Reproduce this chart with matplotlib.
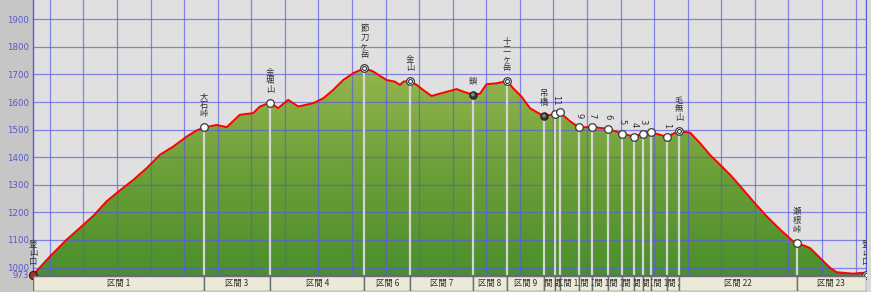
import numpy as np
import matplotlib.pyplot as plt
from matplotlib.patches import Rectangle, Polygon
from matplotlib.colors import LinearSegmentedColormap
from matplotlib.transforms import Bbox, TransformedBbox

plt.rcParams['font.family'] = ['Noto Sans CJK JP', 'DejaVu Sans']

# profile: distance (km) / elevation (m)
dist = [0.00, 0.51, 1.00, 1.40, 1.80, 2.19, 2.59, 2.99, 3.39, 3.78, 4.18, 4.58,
        4.87, 5.09, 5.47, 5.77, 6.16, 6.56, 6.76, 7.06, 7.30, 7.60, 7.90, 8.35,
        8.65, 8.94, 9.24, 9.54, 9.87, 10.13, 10.53, 10.78, 10.93, 11.03, 11.23,
        11.43, 11.62, 11.87, 12.22, 12.62, 12.81, 13.10, 13.31, 13.51, 13.81,
        14.12, 14.30, 14.55, 14.80, 15.05, 15.22, 15.55, 15.69, 16.00, 16.26,
        16.65, 17.12, 17.54, 17.90, 18.16, 18.40, 18.87, 19.24, 19.57, 19.86,
        20.16, 20.46, 20.76, 21.05, 21.45, 21.85, 22.25, 22.64, 22.75, 23.14,
        23.44, 23.74, 23.94, 24.42, 24.72, 24.81]
elev = [973, 1041, 1101, 1144, 1188, 1240, 1280, 1318, 1361, 1409, 1439, 1475,
        1497, 1508, 1517, 1509, 1554, 1560, 1584, 1598, 1578, 1608, 1584, 1596,
        1614, 1644, 1680, 1705, 1723, 1711, 1680, 1674, 1662, 1674, 1677,
        1662, 1644, 1622, 1634, 1647, 1638, 1627, 1630, 1665, 1668,
        1677, 1650, 1620, 1578, 1560, 1550, 1556, 1563, 1530, 1508,
        1510, 1503, 1486, 1475, 1485, 1491, 1474, 1495, 1489, 1452,
        1409, 1373, 1337, 1297, 1240, 1186, 1138, 1095, 1090, 1071,
        1035, 999, 983, 978, 981, 973]

# waypoints
wp_dist = [0.00, 5.09, 7.06, 9.87, 11.23, 13.10, 14.12, 15.22, 15.55, 15.69,
           16.26, 16.65, 17.12, 17.54, 17.90, 18.16, 18.40, 18.87, 19.24,
           22.75, 24.81]
wp_names = ['登山口', '大石峠', '金堀山', '節刀ヶ岳', '金山', '鎖', '十二ヶ岳', '吊橋',
            '11', '', '9', '7', '6', '5', '4', '3', '', '1', '毛無山',
            '瀬根峠', '登山口']
wp_kind = ['start', 'o', 'o', 'dbl', 'dbl', 'dark', 'dbl', 'dark',
           'o', 'o', 'o', 'o', 'o', 'o', 'o', 'o', 'o', 'o', 'dbl',
           'o', 'dbl']

sections = ['区間 1', '区間 3', '区間 4', '区間 6', '区間 7', '区間 8', '区間 9',
            '区間 10', '区間 11', '区間 12', '区間 13', '区間 14', '区間 15',
            '区間 16', '区間 17', '区間 18', '区間 19', '区間 20', '区間 22',
            '区間 23']

yticks = [973, 1000, 1100, 1200, 1300, 1400, 1500, 1600, 1700, 1800, 1900]

W, H = 871, 292
xmax = 24.81
ymin, ymax = 973, 1970

fig = plt.figure(figsize=(W / 100, H / 100), dpi=100, facecolor='#c6c6c6')
# light strip right of the plot
fig.patches.append(Rectangle((867 / W, 0), 4 / W, 1, transform=fig.transFigure,
                             facecolor='#d9d9d9', edgecolor='none'))

ax = fig.add_axes([33 / W, 17 / H, 833 / W, 275 / H])
ax.set_facecolor('#e0e0e0')

# green gradient fill under the profile
verts = list(zip(dist, elev)) + [(dist[-1], ymin), (dist[0], ymin)]
poly = Polygon(verts, closed=True, facecolor='none', edgecolor='none')
ax.add_patch(poly)
cmap = LinearSegmentedColormap.from_list('g', ['#4b8f2c', '#6c9f38', '#95b64e'])
grad = np.linspace(0, 1, 256).reshape(-1, 1)
im = ax.imshow(grad, extent=[0, xmax, ymin, 1730], origin='lower', cmap=cmap,
               aspect='auto', zorder=1)
im.set_clip_path(poly)

ax.set_xlim(0, xmax)
ax.set_ylim(ymin, ymax)

ax.set_xticks(np.arange(0.5, xmax, 1.0))
ax.set_yticks(yticks)
ax.set_yticklabels([str(v) for v in yticks])
ax.tick_params(axis='x', length=0, labelbottom=False)
ax.tick_params(axis='y', length=0, pad=3, labelsize=6.2, labelcolor='#5757c9')
for lbl in ax.get_yticklabels():
    lbl.set_family('DejaVu Sans')
ax.set_axisbelow(False)
ax.grid(color='#5a5ae0', lw=0.9, alpha=0.7, zorder=2)
for s in ax.spines.values():
    s.set_color('#5a5ae0')
    s.set_linewidth(1.0)
ax.spines['top'].set_visible(False)

wp_elev = np.interp(wp_dist, dist, elev)

ax.vlines(wp_dist[1:-1], ymin, wp_elev[1:-1], color='#d4d4d4', lw=1.6, zorder=3)
ax.plot(dist, elev, color='#ff0000', lw=1.4, zorder=5)

for x, y, name, kind in zip(wp_dist, wp_elev, wp_names, wp_kind):
    if kind == 'dark':
        ax.scatter(x, y, s=28, facecolor='#3c3c3c', edgecolor='#202020', lw=0.8, zorder=6, clip_on=False)
        ax.scatter(x, y, s=6, facecolor='#8a8a8a', edgecolor='none', zorder=7, clip_on=False)
    elif kind == 'start':
        ax.scatter(x, y, s=34, facecolor='#9b3420', edgecolor='#3a1a10', lw=0.8, zorder=6, clip_on=False)
    else:
        ax.scatter(x, y, s=30, facecolor='white', edgecolor='#3a3a3a', lw=0.9, zorder=6, clip_on=False)
        if kind == 'dbl':
            ax.scatter(x, y, s=8, facecolor='white', edgecolor='#3a3a3a', lw=0.8, zorder=7, clip_on=False)
    if not name:
        continue
    if name.isdigit():
        ax.annotate(name, (x, y), xytext=(0, 9), textcoords='offset pixels',
                    rotation=270, ha='center', va='bottom', fontsize=6,
                    color='#303030', family='DejaVu Sans', zorder=8)
    else:
        ax.annotate('\n'.join(name), (x, y), xytext=(0, 9), textcoords='offset pixels',
                    ha='center', va='bottom', fontsize=6, linespacing=0.95,
                    color='#303030', zorder=8, annotation_clip=False)

# section bar
bax = fig.add_axes([33 / W, 1 / H, 833 / W, 15 / H])
bax.set_xlim(0, xmax)
bax.set_ylim(0, 1)
bax.axis('off')
for x0, x1, label in zip(wp_dist[:-1], wp_dist[1:], sections):
    rect = Rectangle((x0, 0), x1 - x0, 1, facecolor='#ece9d8', edgecolor='#6e6e6e', lw=1.0)
    bax.add_patch(rect)
    t = bax.text((x0 + x1) / 2, 0.5, label, ha='center', va='center',
                 fontsize=6, color='#303030', clip_on=True)
    t.set_clip_box(TransformedBbox(Bbox([[x0, 0], [x1, 1]]), bax.transData))

fig.savefig('out.png', dpi=100, facecolor=fig.get_facecolor())
